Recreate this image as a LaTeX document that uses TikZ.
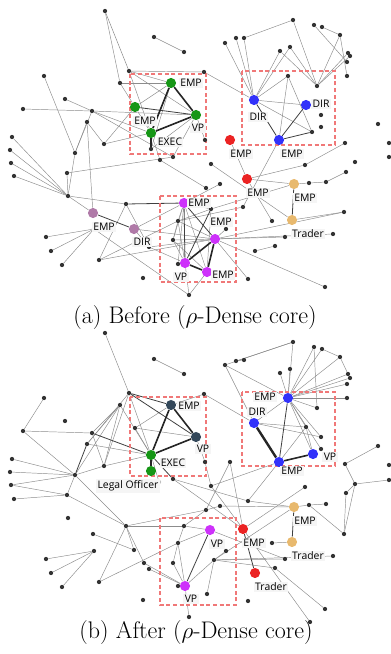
\documentclass[tikz,border=0pt]{standalone}
\usepackage{fontspec}
\newfontfamily\labfont{Open Sans}
\pgfdeclarelayer{bg}
\pgfsetlayers{bg,main}
\definecolor{cgreen}{RGB}{22,150,22}
\definecolor{cblue}{RGB}{50,50,250}
\definecolor{cred}{RGB}{235,35,35}
\definecolor{corange}{RGB}{232,185,110}
\definecolor{cmauve}{RGB}{176,122,168}
\definecolor{cmag}{RGB}{205,50,250}
\definecolor{cslate}{RGB}{52,72,90}
\definecolor{cbox}{RGB}{240,120,120}
\tikzset{
  dot/.style={circle,fill=black!80,inner sep=0pt,minimum size=3.2pt},
  big/.style={circle,inner sep=0pt,minimum size=7.6pt},
  e/.style={draw=black!45,line width=0.35pt},
  ed/.style={draw=black!75,line width=0.6pt},
  et/.style={draw=black!85,line width=1.2pt},
  lab/.style={font=\labfont\fontsize{7.8}{9}\selectfont,fill=black!4,inner sep=1pt},
  cbx/.style={draw=cbox,line width=1pt,dash pattern=on 3pt off 2pt},
  captxt/.style={font=\fontsize{18}{21}\selectfont}
}
\newcommand\DA[2]{\node[dot] (A#1x#2) at (#1,#2) {};}
\newcommand\DB[2]{\node[dot] (B#1x#2) at (#1,#2) {};}
\begin{document}
\begin{tikzpicture}[x=0.75pt,y=-0.75pt]
\useasboundingbox (0,0) rectangle (391,654);
% ================= panel (a) =================
\draw[cbx] (130,74) rectangle (206,154);
\draw[cbx] (242,71) rectangle (335,145);
\draw[cbx] (160,196) rectangle (236,282);
\foreach \x/\y in {105/11,154/37,184/52,129/71,120/83,44/76,65/99,23/109,92/111,87/122,104/144,12/137,10/150,75/153,151/149,173/157,
293/20,314/25,322/27,340/35,225/43,236/38,244/38,280/51,290/47,348/53,350/56,347/62,347/76,204/72,288/76,317/86,321/115,321/127,312/132,378/124,389/143,389/157,345/143,205/140,
11/163,14/176,67/173,68/196,126/204,160/160,94/229,46/237,51/251,62/265,99/260,149/247,143/278,178/221,173/240,178/264,189/295,
211/164,305/165,355/162,309/183,326/182,346/172,206/188,220/184,243/207,211/209,272/221,226/229,344/212,285/237,333/234,275/246,255/251,248/279,325/287}
  {\DA{\x}{\y}}
\node[big,fill=cgreen] (gA1) at (171,83) {};
\node[big,fill=cgreen] (gA2) at (135,107) {};
\node[big,fill=cgreen] (gA3) at (196,115) {};
\node[big,fill=cgreen] (gA4) at (151,133) {};
\node[big,fill=cblue] (bA1) at (254,100) {};
\node[big,fill=cblue] (bA2) at (306,105) {};
\node[big,fill=cblue] (bA3) at (279,140) {};
\node[big,fill=cred] (rA1) at (230,140) {};
\node[big,fill=cred] (rA2) at (247,179) {};
\node[big,fill=corange] (oA1) at (294,184) {};
\node[big,fill=corange] (oA2) at (292,220) {};
\node[big,fill=cmauve] (mA1) at (93,213) {};
\node[big,fill=cmauve] (mA2) at (134,229) {};
\node[big,fill=cmag] (pA1) at (184,203) {};
\node[big,fill=cmag] (pA2) at (215,239) {};
\node[big,fill=cmag] (pA3) at (185,263) {};
\node[big,fill=cmag] (pA4) at (207,272) {};
\begin{pgfonlayer}{bg}
\foreach \u/\v in {A105x11/A129x71,A105x11/A120x83,A154x37/A184x52,A129x71/gA1,A129x71/gA3,A129x71/A204x72,A129x71/gA4,A120x83/gA1,A120x83/gA2,
A44x76/A75x153,A65x99/A92x111,A23x109/A92x111,A92x111/gA4,A92x111/A173x157,A92x111/gA3,A87x122/A104x144,A87x122/A75x153,A87x122/mA1,A92x111/A75x153,
A104x144/gA2,A104x144/gA4,A75x153/A68x196,A12x137/A68x196,A10x150/A68x196,A11x163/A68x196,A14x176/A68x196,A67x173/A68x196,A67x173/A173x157,
A68x196/A126x204,A68x196/mA1,A126x204/A99x260,A126x204/A149x247,A94x229/A46x237,A94x229/A51x251,A94x229/A62x265,A94x229/A189x295,
mA2/pA1,mA2/A149x247,mA2/pA2,A99x260/A178x221,A99x260/pA2,A149x247/pA3,A149x247/pA2,A160x160/gA4,A173x157/gA3,A151x149/gA3,gA1/A151x149,
gA2/gA1,gA2/gA4,gA1/gA4,
A293x20/A244x38,A293x20/A317x86,A314x25/A347x62,A322x27/A340x35,A340x35/A317x86,A340x35/A347x76,A348x53/A317x86,A350x56/A317x86,
A225x43/bA1,A236x38/bA1,A244x38/bA1,A280x51/bA1,A290x47/bA1,A280x51/A317x86,A290x47/A317x86,A288x76/bA1,A288x76/bA3,A288x76/A312x132,
A204x72/bA1,bA1/bA2,bA1/A312x132,A205x140/gA3,bA3/A243x207,A345x143/A305x165,rA1/rA2,
A211x164/oA2,rA2/A305x165,rA2/oA1,rA2/A272x221,oA1/A309x183,A309x183/A326x182,A326x182/A346x172,oA1/A211x209,oA2/A344x212,
pA2/A344x212,pA2/A285x237,pA2/A333x234,pA2/A325x287,pA2/A248x279,pA2/A226x229,A243x207/A178x221,A206x188/A160x160,A220x184/pA1,
pA1/A211x209,pA1/pA4,pA1/A178x221,pA1/A173x240,pA1/A178x264,A211x209/A178x221,A211x209/pA4,A178x221/A173x240,A173x240/pA3,A173x240/pA2,
A178x221/pA3,A178x264/pA3,pA3/A189x295,pA4/A189x295,A255x251/A275x246,A178x221/pA2,A173x240/pA4}
  {\draw[e] (\u) -- (\v);}
\foreach \u/\v in {gA2/gA3,A126x204/pA1,mA1/mA2,oA1/oA2,bA1/bA3,bA2/bA3,bA3/A312x132,pA1/pA2,pA1/pA3,A211x209/pA3}
  {\draw[ed] (\u) -- (\v);}
\foreach \u/\v in {gA1/gA3,gA1/gA4,gA4/gA3,gA4/A151x149,pA2/pA3,pA2/pA4,pA3/pA4}
  {\draw[et] (\u) -- (\v);}
\end{pgfonlayer}
\node[lab] (LA1) at (191,83) {EMP};
\node[lab] (LA2) at (145,121) {EMP};
\node[lab] (LA3) at (198,128) {VP};
\node[lab] (LA4) at (170,142) {EXEC};
\node[lab] (LA5) at (258,117) {DIR};
\node[lab] (LA6) at (321,104) {DIR};
\node[lab] (LA7) at (292,154) {EMP};
\node[lab] (LA8) at (241,154) {EMP};
\node[lab] (LA9) at (258,193) {EMP};
\node[lab] (LA10) at (305,198) {EMP};
\node[lab] (LA11) at (308,234) {Trader};
\node[lab] (LA12) at (104,227) {EMP};
\node[lab] (LA13) at (142,242) {DIR};
\node[lab] (LA14) at (199,203) {EMP};
\node[lab] (LA15) at (221,222) {EMP};
\node[lab] (LA16) at (181,277) {VP};
\node[lab] (LA17) at (223,275) {EMP};
\node[captxt] (capA) at (195,318) {(a) Before ($\rho$-Dense core)};
% ================= panel (b) =================
\draw[cbx] (130,397) rectangle (206,476);
\draw[cbx] (242,392) rectangle (335,466);
\draw[cbx] (160,518) rectangle (236,605);
\foreach \x/\y in {105/333,154/359,184/374,129/393,120/405,44/398,65/421,23/431,92/433,87/444,135/428,104/466,12/459,10/472,11/485,75/475,173/479,
293/342,314/347,322/349,340/357,225/365,236/361,244/360,280/373,290/369,348/374,350/378,347/384,347/398,204/394,317/408,306/427,321/437,321/449,378/446,345/464,389/465,230/462,205/462,
14/499,67/495,68/518,126/526,93/534,94/551,134/550,46/559,51/573,62/587,99/582,144/563,149/569,143/600,184/526,178/543,173/563,178/586,189/617,
211/486,305/487,248/501,355/484,389/480,346/493,309/505,326/504,206/510,220/506,344/534,272/543,226/551,214/560,285/559,333/556,275/568,207/594,248/601,325/609,310/622}
  {\DB{\x}{\y}}
\node[circle,fill=black!25,inner sep=0pt,minimum size=3.2pt] (B159x482) at (159,482) {};
\node[big,fill=cslate] (sB1) at (171,405) {};
\node[big,fill=cslate] (sB2) at (196,437) {};
\node[big,fill=cgreen] (gB1) at (151,455) {};
\node[big,fill=cgreen] (gB2) at (151,471) {};
\node[big,fill=cblue] (bB1) at (288,398) {};
\node[big,fill=cblue] (bB2) at (254,423) {};
\node[big,fill=cblue] (bB3) at (279,462) {};
\node[big,fill=cblue] (bB4) at (313,454) {};
\node[big,fill=cred] (rB1) at (243,529) {};
\node[big,fill=cred] (rB2) at (255,573) {};
\node[big,fill=corange] (oB1) at (294,507) {};
\node[big,fill=corange] (oB2) at (292,542) {};
\node[big,fill=cmag] (pB1) at (210,530) {};
\node[big,fill=cmag] (pB2) at (185,586) {};
\begin{pgfonlayer}{bg}
\foreach \u/\v in {B105x333/B129x393,B154x359/B184x374,B44x398/B23x431,B23x431/B92x433,B23x431/B75x475,B129x393/gB1,B120x405/B92x433,B120x405/B87x444,
B120x405/B104x466,B120x405/gB1,B120x405/B75x475,B92x433/B104x466,B87x444/gB1,B104x466/gB1,B135x428/sB1,B135x428/sB2,B135x428/gB1,
B12x459/B75x475,B10x472/B75x475,B11x485/B75x475,B14x499/B67x495,B11x485/B67x495,B75x475/B67x495,B75x475/B126x526,B67x495/B126x526,B104x466/B75x475,
B173x479/B248x501,B173x479/rB1,B126x526/B134x550,B126x526/B99x582,B126x526/B144x563,B126x526/B184x526,B93x534/B134x550,
B94x551/B46x559,B94x551/B51x573,B94x551/B62x587,B99x582/B178x543,B144x563/pB2,B149x569/pB2,B184x526/B178x543,B178x543/pB2,B173x563/pB2,
B178x543/B173x563,B184x526/B206x510,pB2/B189x617,B178x586/pB2,B184x526/pB1,B178x543/pB1,B214x560/pB2,B214x560/B207x594,
B214x560/B285x559,B214x560/B275x568,B214x560/B226x551,B214x560/oB1,B214x560/B333x556,B275x568/B325x609,rB1/B310x622,B211x486/rB1,
B205x462/B211x486,B230x462/rB1,B230x462/B206x510,sB2/B205x462,B204x394/bB2,B204x394/sB1,B159x482/gB1,B126x526/B206x510,
B293x342/B236x361,B293x342/B225x365,B236x361/B244x360,B293x342/bB1,B314x347/bB1,B322x349/bB1,B314x347/B317x408,B322x349/B340x357,
B340x357/bB1,B340x357/B348x374,B348x374/bB1,B350x378/bB1,B347x384/bB1,B347x398/bB1,B317x408/bB1,B225x365/bB1,B280x373/bB1,
B290x369/bB1,B225x365/bB2,bB1/B306x427,bB1/B321x437,bB1/B321x449,bB1/bB4,bB2/B306x427,bB2/B321x437,bB3/B306x427,B306x427/bB4,
bB2/bB1,bB3/B248x501,bB3/B211x486,B345x464/B378x446,B345x464/B355x484,B355x484/B389x480,B355x484/B346x493,B355x484/B344x534,
B346x493/B344x534,B309x505/B344x534,oB1/B309x505,B309x505/B326x504,oB1/B248x501,oB1/B220x506,oB2/B272x543,rB1/B305x487,B220x506/B206x510,
B285x559/pB1,B129x393/B104x466,B87x444/B129x393}
  {\draw[e] (\u) -- (\v);}
\foreach \u/\v in {B129x393/sB1,B129x393/sB2,B92x433/gB1,B87x444/B75x475,gB1/B173x479,oB1/oB2,rB1/rB2,pB1/pB2,bB1/bB3}
  {\draw[ed] (\u) -- (\v);}
\foreach \u/\v in {sB1/gB1,sB1/sB2,gB1/sB2,gB1/gB2,bB3/bB4}
  {\draw[et] (\u) -- (\v);}
\draw[draw=black!85,line width=1.8pt] (bB2) -- (bB3);
\end{pgfonlayer}
\node[lab] (LB1) at (189,406) {EMP};
\node[lab] (LB2) at (203,449) {VP};
\node[lab] (LB3) at (173,463) {EXEC};
\node[lab] (LB4) at (128,486) {Legal Officer};
\node[lab] (LB5) at (265,397) {EMP};
\node[lab] (LB6) at (257,412) {DIR};
\node[lab] (LB7) at (292,471) {EMP};
\node[lab] (LB8) at (330,457) {VP};
\node[lab] (LB9) at (254,543) {EMP};
\node[lab] (LB10) at (271,587) {Trader};
\node[lab] (LB11) at (305,521) {EMP};
\node[lab] (LB12) at (308,556) {Trader};
\node[lab] (LB13) at (217,544) {VP};
\node[lab] (LB14) at (191,599) {VP};
\node[captxt] (capB) at (196,633) {(b) After ($\rho$-Dense core)};
\end{tikzpicture}
\end{document}
